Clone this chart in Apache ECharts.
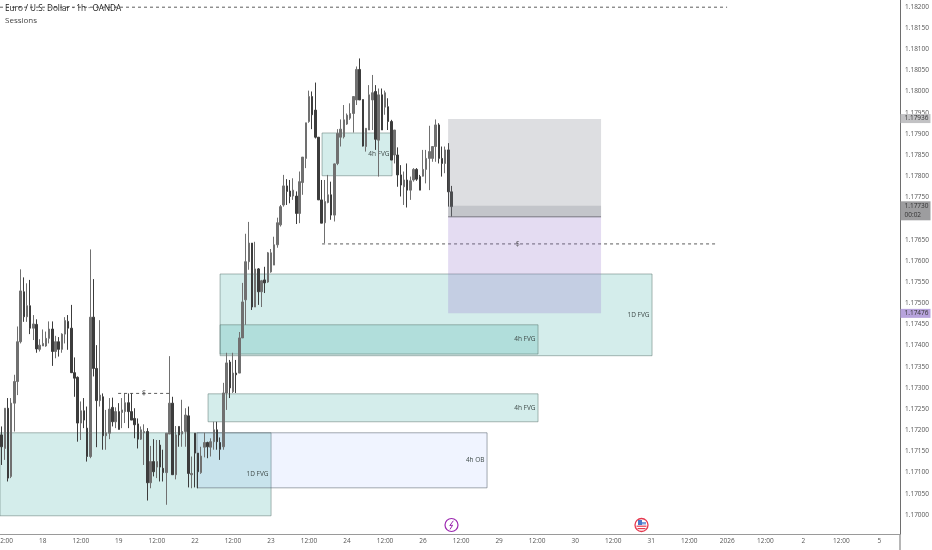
<!DOCTYPE html>
<html><head><meta charset="utf-8">
<style>html,body{margin:0;padding:0;background:#fff}#c{width:932px;height:550px;filter:blur(.35px)}</style>
<script src="https://cdn.jsdelivr.net/npm/echarts@6/dist/echarts.min.js"></script>
</head><body><div id="c"></div>
<script>
const opens=[1.17189,1.17157,1.17252,1.17091,1.17264,1.17315,1.17409,1.17527,1.17468,1.17494,
1.17441,1.17450,1.17391,1.17399,1.17399,1.17417,1.17439,1.17386,1.17409,1.17391,
1.17427,1.17457,1.17441,1.17336,1.17325,1.17217,1.17246,1.17205,1.17138,1.17467,
1.17346,1.17270,1.17279,1.17187,1.17193,1.17254,1.17220,1.17244,1.17242,1.17244,
1.17265,1.17244,1.17228,1.17215,1.17179,1.17194,1.17197,1.17076,1.17126,1.17113,
1.17165,1.17110,1.17100,1.17191,1.17264,1.17095,1.17209,1.17191,1.17197,1.17234,
1.17095,1.17193,1.17146,1.17100,1.17160,1.17171,1.17160,1.17173,1.17201,1.17171,
1.17161,1.17288,1.17361,1.17291,1.17335,1.17335,1.17418,1.17508,1.17598,1.17642,
1.17491,1.17581,1.17527,1.17555,1.17550,1.17574,1.17590,1.17638,1.17685,1.17732,
1.17777,1.17765,1.17753,1.17753,1.17712,1.17785,1.17842,1.17929,1.17988,1.17956,
1.17892,1.17744,1.17690,1.17738,1.17756,1.17708,1.17830,1.17892,1.17893,1.17923,
1.17937,1.17948,1.17980,1.18052,1.17981,1.17870,1.17909,1.17980,1.18000,1.17885,
1.17992,1.17963,1.17964,1.17929,1.17850,1.17850,1.17803,1.17775,1.17791,1.17767,
1.17791,1.17816,1.17799,1.17800,1.17816,1.17842,1.17842,1.17870,1.17921,1.17842,
1.17830,1.17862,1.17763];
const closes=[1.17161,1.17252,1.17087,1.17264,1.17315,1.17409,1.17529,1.17468,1.17494,1.17441,
1.17451,1.17392,1.17401,1.17405,1.17417,1.17439,1.17386,1.17409,1.17391,1.17427,
1.17459,1.17441,1.17336,1.17323,1.17217,1.17246,1.17224,1.17138,1.17467,1.17346,
1.17270,1.17283,1.17187,1.17194,1.17250,1.17220,1.17244,1.17202,1.17248,1.17265,
1.17244,1.17224,1.17213,1.17179,1.17201,1.17197,1.17076,1.17126,1.17102,1.17126,
1.17113,1.17100,1.17193,1.17264,1.17095,1.17189,1.17189,1.17197,1.17236,1.17098,
1.17098,1.17146,1.17102,1.17139,1.17171,1.17161,1.17173,1.17201,1.17173,1.17155,
1.17288,1.17359,1.17300,1.17335,1.17331,1.17418,1.17503,1.17598,1.17642,1.17491,
1.17581,1.17527,1.17553,1.17548,1.17619,1.17619,1.17638,1.17690,1.17728,1.17777,
1.17764,1.17752,1.17767,1.17712,1.17787,1.17845,1.17926,1.17988,1.17945,1.17892,
1.17744,1.17689,1.17740,1.17756,1.17708,1.17829,1.17901,1.17911,1.17933,1.17944,
1.17948,1.17988,1.18052,1.17980,1.17871,1.17913,1.17992,1.17997,1.17887,1.17992,
1.17909,1.17997,1.17929,1.17838,1.17909,1.17803,1.17779,1.17791,1.17767,1.17789,
1.17816,1.17793,1.17767,1.17816,1.17842,1.17858,1.17870,1.17921,1.17842,1.17830,
1.17862,1.17763,1.17728];
const lows=[1.17118,1.17130,1.17079,1.17087,1.17197,1.17283,1.17405,1.17456,1.17456,1.17427,
1.17413,1.17383,1.17386,1.17399,1.17397,1.17405,1.17352,1.17370,1.17374,1.17383,
1.17405,1.17390,1.17335,1.17279,1.17173,1.17177,1.17205,1.17126,1.17134,1.17327,
1.17160,1.17256,1.17154,1.17154,1.17179,1.17209,1.17205,1.17202,1.17205,1.17217,
1.17205,1.17224,1.17181,1.17157,1.17177,1.17118,1.17034,1.17063,1.17091,1.17087,
1.17079,1.17079,1.17024,1.17191,1.17095,1.17084,1.17161,1.17161,1.17161,1.17065,
1.17063,1.17065,1.17063,1.17097,1.17136,1.17134,1.17138,1.17154,1.17154,1.17130,
1.17154,1.17248,1.17276,1.17288,1.17288,1.17335,1.17418,1.17449,1.17579,1.17484,
1.17491,1.17496,1.17491,1.17524,1.17548,1.17572,1.17590,1.17631,1.17681,1.17728,
1.17732,1.17736,1.17744,1.17687,1.17689,1.17756,1.17819,1.17926,1.17911,1.17889,
1.17744,1.17689,1.17642,1.17736,1.17697,1.17693,1.17826,1.17870,1.17889,1.17921,
1.17933,1.17903,1.17968,1.17980,1.17870,1.17858,1.17909,1.17909,1.17862,1.17799,
1.17909,1.17945,1.17909,1.17838,1.17830,1.17775,1.17752,1.17732,1.17726,1.17744,
1.17787,1.17789,1.17767,1.17799,1.17783,1.17767,1.17834,1.17834,1.17830,1.17799,
1.17807,1.17728,1.17704];
const highs=[1.17209,1.17252,1.17276,1.17276,1.17331,1.17445,1.17580,1.17561,1.17547,1.17555,
1.17472,1.17462,1.17415,1.17438,1.17433,1.17457,1.17457,1.17423,1.17420,1.17429,
1.17467,1.17472,1.17496,1.17372,1.17327,1.17268,1.17276,1.17256,1.17627,1.17557,
1.17401,1.17460,1.17287,1.17248,1.17276,1.17277,1.17254,1.17264,1.17276,1.17287,
1.17287,1.17287,1.17252,1.17228,1.17209,1.17214,1.17205,1.17163,1.17179,1.17177,
1.17177,1.17154,1.17193,1.17375,1.17279,1.17210,1.17209,1.17272,1.17252,1.17256,
1.17138,1.17193,1.17146,1.17161,1.17194,1.17173,1.17181,1.17220,1.17220,1.17183,
1.17312,1.17383,1.17366,1.17383,1.17366,1.17432,1.17548,1.17664,1.17692,1.17642,
1.17645,1.17583,1.17555,1.17586,1.17621,1.17628,1.17657,1.17702,1.17732,1.17803,
1.17793,1.17791,1.17795,1.17764,1.17811,1.17845,1.17926,1.18002,1.18000,1.18021,
1.17892,1.17791,1.17791,1.17803,1.17787,1.17830,1.17911,1.17934,1.17968,1.17948,
1.17972,1.17988,1.18059,1.18078,1.17981,1.17913,1.18015,1.18039,1.18015,1.18007,
1.18007,1.18002,1.17984,1.17933,1.17909,1.17868,1.17826,1.17811,1.17830,1.17799,
1.17819,1.17819,1.17803,1.17862,1.17862,1.17919,1.17870,1.17934,1.17925,1.17870,
1.17870,1.17878,1.17777];

const xTickLabels=['12:00','18','12:00','19','12:00','22','12:00','23','12:00','24','12:00','26','12:00','29','12:00','30','12:00','31','12:00','2026','12:00','2','12:00','5'];
const yTickValues=[1.17000,1.17050,1.17100,1.17150,1.17200,1.17250,1.17300,1.17350,1.17400,1.17450,1.17500,1.17550,1.17600,1.17650,1.17700,1.17750,1.17800,1.17850,1.17900,1.17950,1.18000,1.18050,1.18100,1.18150,1.18200];

// zones: [start hour, end hour, upper price, lower price]
const fvgZones=[[0,85.6,1.17194,1.16998],[65.7,169.9,1.17286,1.17220],[69.5,205.9,1.17569,1.17376],[69.5,169.9,1.17449,1.17380],[101.7,123.8,1.17902,1.17801]];
const fvgNames=['1D FVG','4h FVG','1D FVG','4h FVG','4h FVG'];
const obZones=[[62.2,153.8,1.17194,1.17064]];
const obNames=['4h OB'];
const riskZones=[[141.5,189.8,1.17935,1.17704],[141.5,189.8,1.17730,1.17704]];
const rewardZones=[[141.5,189.8,1.17704,1.17476]];
const dashedLevels=[[0,229.6,1.18199],[101.7,225.8,1.17640],[37.3,53.7,1.17287]];
const dollarMarks=[[163.5,1.17640],[45.5,1.17287]];
const entryLine=[[141.5,1.17704],[189.8,1.17704]];
const badgePrices=[1.17936,1.17730,1.17476];
const badgeSub=['','00:02',''];
const badgeFill=['#c2c2c4','#9d9d9f','#b7a3dc'];

const HOURS=284.2;
const categories=new Array(284).fill('');
xTickLabels.forEach((t,i)=>{categories[1+12*i]=t;});
const candles=opens.map((o,i)=>[o,closes[i],lows[i],highs[i]]);
const FONT='"Open Sans","Noto Sans",sans-serif';

function zoneSeries(data,names,fill,border,z){
  return {type:'custom',xAxisIndex:1,yAxisIndex:0,z:z,silent:true,clip:true,data:data,
    encode:{x:[0,1],y:[2,3]},
    renderItem:(p,api)=>{
      const a=api.coord([api.value(0),api.value(2)]),b=api.coord([api.value(1),api.value(3)]);
      const t=names[p.dataIndex];
      return {type:'rect',shape:{x:a[0],y:a[1],width:b[0]-a[0],height:b[1]-a[1]},
        style:{fill:fill,stroke:border,lineWidth:border?1:0},
        textContent:t?{type:'text',z2:60,style:{text:t,fill:'#3e4a48',font:'6.5px '+FONT}}:undefined,
        textConfig:t?{position:'insideRight',distance:3}:undefined};
    }};
}
const dashSeries=dashedLevels.map(d=>({type:'line',xAxisIndex:1,yAxisIndex:0,z:4,silent:true,showSymbol:false,
  data:[[d[0],d[2]],[d[1],d[2]]],lineStyle:{color:'#333',width:.8,type:[3,3]}}));

const option={
  animation:false,backgroundColor:'#fff',
  title:[{text:'Euro / U.S. Dollar · 1h · OANDA',left:5,top:5,padding:0,textStyle:{fontSize:8.2,fontWeight:500,color:'#222',fontFamily:FONT}},
         {text:'Sessions',left:5,top:17,padding:0,textStyle:{fontSize:8,fontWeight:400,color:'#444',fontFamily:FONT}}],
  grid:{left:0,right:32,top:0,bottom:16,containLabel:false,outerBoundsMode:'none'},
  xAxis:[
    {type:'category',data:categories,boundaryGap:true,
     axisLine:{onZero:false,lineStyle:{color:'#9a9a9a',width:1}},axisTick:{show:false},splitLine:{show:false},
     axisLabel:{interval:0,hideOverlap:false,color:'#555',fontSize:6.5,fontFamily:FONT,margin:4}},
    {type:'value',min:0,max:HOURS,show:false}
  ],
  yAxis:[{type:'value',position:'right',min:1.16955,max:1.18216,scale:true,
    axisLine:{show:true,onZero:false,lineStyle:{color:'#6e6e6e',width:1}},axisTick:{show:false},splitLine:{show:false},
    axisLabel:{customValues:yTickValues,formatter:v=>v.toFixed(5),color:'#555',fontSize:6.5,fontFamily:FONT,margin:5}}],
  series:[
    zoneSeries(fvgZones,fvgNames,'rgba(38,166,154,.2)','rgba(90,115,110,.5)',1),
    zoneSeries(obZones,obNames,'rgba(41,98,255,.07)','rgba(90,100,110,.55)',1),
    {type:'candlestick',xAxisIndex:0,yAxisIndex:0,z:3,silent:true,data:candles,barWidth:2,
     itemStyle:{color:'#707070',color0:'#3c3c3c',borderColor:'#707070',borderColor0:'#3c3c3c',borderWidth:1}},
    zoneSeries(riskZones,['',''],'rgba(120,123,134,.25)',null,5),
    zoneSeries(rewardZones,[''],'rgba(149,117,205,.25)',null,5),
    {type:'line',xAxisIndex:1,yAxisIndex:0,z:6,silent:true,showSymbol:false,data:entryLine,lineStyle:{color:'#77777f',width:1}},
    ...dashSeries,
    {type:'scatter',xAxisIndex:1,yAxisIndex:0,z:6,silent:true,symbolSize:0,data:dollarMarks,
     label:{show:true,position:'inside',formatter:'$',fontSize:7,color:'#333',fontFamily:FONT}},
    {type:'custom',xAxisIndex:1,yAxisIndex:0,z:10,silent:true,clip:false,
     data:badgePrices.map(p=>[HOURS,p]),encode:{x:0,y:1},
     renderItem:(p,api)=>{
       const c=api.coord([api.value(0),api.value(1)]),i=p.dataIndex,sub=badgeSub[i],h=sub?19:9;
       const kids=[{type:'rect',shape:{x:c[0]+.5,y:c[1]-4.5,width:30,height:h},style:{fill:badgeFill[i]}},
        {type:'text',style:{x:c[0]+4.5,y:c[1],text:badgePrices[i].toFixed(5),fill:'#333',font:'6.5px '+FONT,textVerticalAlign:'middle'}}];
       if(sub)kids.push({type:'text',style:{x:c[0]+4.5,y:c[1]+9,text:sub,fill:'#333',font:'6.5px '+FONT,textVerticalAlign:'middle'}});
       return {type:'group',children:kids};
     }}
  ],
  graphic:[
    {type:'line',shape:{x1:900,y1:534,x2:900,y2:550},style:{stroke:'#6e6e6e',lineWidth:1},silent:true},
    {type:'circle',shape:{cx:451.5,cy:525,r:6.5},style:{fill:'#fff',stroke:'#9c27b0',lineWidth:1.2},silent:true},
    {type:'polyline',shape:{points:[[453.3,520.8],[449.8,525.6],[452.6,525.2],[450,529.4]]},style:{fill:null,stroke:'#9c27b0',lineWidth:1},silent:true},
    {type:'circle',shape:{cx:641.5,cy:525,r:6.5},style:{fill:'#fff',stroke:'#e53950',lineWidth:1.3},silent:true},
    {type:'rect',shape:{x:636.5,y:525.6,width:10,height:1.2},style:{fill:'#e53950'},silent:true},
    {type:'rect',shape:{x:637.5,y:528,width:8,height:1.2},style:{fill:'#e53950'},silent:true},
    {type:'rect',shape:{x:638,y:520,width:4,height:5},style:{fill:'#4a78c8'},silent:true},
    {type:'rect',shape:{x:642,y:522,width:4,height:2.5},style:{fill:'#7e9fdc'},silent:true}
  ]
};
echarts.init(document.getElementById('c'),null,{renderer:'canvas'}).setOption(option);
</script></body></html>
